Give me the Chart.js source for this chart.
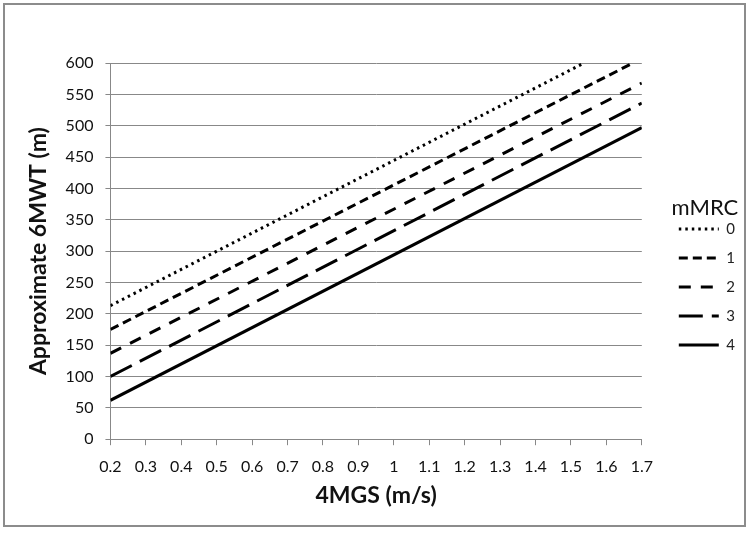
<!DOCTYPE html>
<html>
<head>
<meta charset="utf-8">
<script src="https://cdn.jsdelivr.net/npm/chart.js"></script>
<style>
  html, body { margin: 0; padding: 0; background: #fff; }
  #wrap { position: relative; width: 752px; height: 533px; }
  #frame { position: absolute; left: 3px; top: 3px; width: 743px; height: 524px; border: 2px solid #8c8c8c; box-sizing: border-box; pointer-events: none; }
  canvas { position: absolute; left: 0; top: 0; }
</style>
</head>
<body>
<div id="wrap">
  <canvas id="lineChart" width="752" height="533"></canvas>
  <div id="frame"></div>
</div>
<script>
// 4MGS 값 (x축)
const speedStart = [0.2, 0.2, 0.2, 0.2, 0.2];
const speedEnd = [1.537, 1.675, 1.7, 1.7, 1.7];
// 6MWT 추정값 (y축)
const walkStart = [213, 175, 137, 100, 62];
const walkEnd = [600, 600, 568, 536, 497];
// mMRC 등급
const gradeLabels = ['0', '1', '2', '3', '4'];
const dashPatterns = [[2.5, 4], [9, 5], [12, 10], [24, 9], []];

Chart.defaults.font.family = 'Lato, "Open Sans", sans-serif';
Chart.defaults.color = '#111';

let datasets = gradeLabels.map(function(label, i) {
    return {
        label: label,
        data: [
            { x: speedStart[i], y: walkStart[i] },
            { x: speedEnd[i], y: walkEnd[i] }
        ],
        borderColor: '#000',
        backgroundColor: '#000',
        borderWidth: 3,
        borderDash: dashPatterns[i],
        pointRadius: 0,
        fill: false
    };
});

// 범례를 오른쪽으로 조금 밀어주는 플러그인
const legendShift = {
    id: 'legendShift',
    afterLayout: function(chart) {
        chart.legend.left += 23;
        chart.legend.right += 23;
    }
};

let ctx = document.getElementById('lineChart').getContext('2d');
new Chart(ctx, {
    type: 'line',
    data: { datasets: datasets },
    plugins: [legendShift],
    options: {
        responsive: false,
        animation: false,
        layout: { padding: { top: 63, right: 30, bottom: 6, left: 21 } },
        plugins: {
            tooltip: { enabled: false },
            legend: {
                position: 'right',
                align: 'start',
                title: { display: true, text: 'mMRC', font: { size: 22 }, padding: { top: 134, bottom: -16 } },
                labels: {
                    usePointStyle: true,
                    pointStyle: 'line',
                    pointStyleWidth: 40,
                    boxHeight: 10,
                    padding: 14,
                    font: { size: 15 },
                    color: '#222',
                    generateLabels: function(chart) {
                        let items = Chart.defaults.plugins.legend.labels.generateLabels(chart);
                        items.forEach(function(item, i) {
                            item.lineDash = dashPatterns[i];
                            item.lineWidth = 3;
                            item.strokeStyle = '#000';
                        });
                        return items;
                    }
                }
            }
        },
        scales: {
            x: {
                type: 'linear',
                min: 0.2,
                max: 1.7,
                ticks: {
                    stepSize: 0.1,
                    font: { size: 16 },
                    padding: 12,
                    color: '#111',
                    callback: function(value) {
                        return String(Math.round(value * 10) / 10);
                    }
                },
                grid: { drawOnChartArea: false, drawTicks: true, tickLength: 6, color: '#888' },
                border: { color: '#888' },
                title: { display: true, text: '4MGS (m/s)', font: { size: 23, weight: 'bold' }, padding: { top: -7, bottom: 18 } }
            },
            y: {
                min: 0,
                max: 600,
                ticks: { stepSize: 50, font: { size: 16 }, padding: 12, color: '#111' },
                grid: { color: '#888', tickLength: 5 },
                border: { color: '#888' },
                title: { display: true, text: 'Approximate 6MWT (m)', font: { size: 23, weight: 'bold' }, padding: { bottom: 1 } }
            }
        }
    }
});
</script>
</body>
</html>
